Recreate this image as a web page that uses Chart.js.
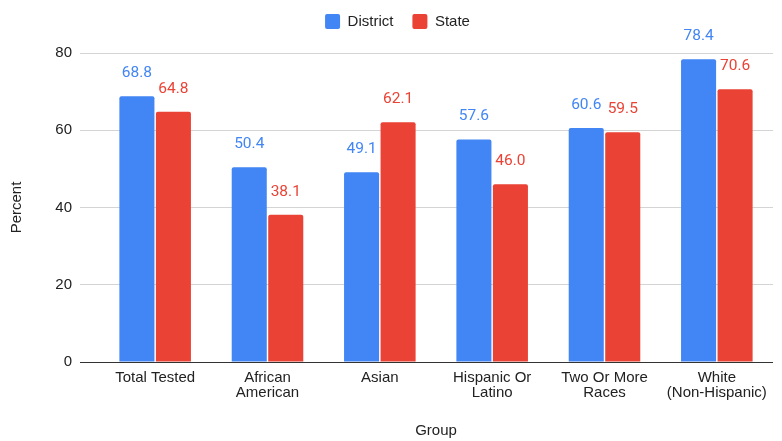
<!DOCTYPE html>
<html>
<head>
<meta charset="utf-8">
<title>Percent by Group</title>
<script src="https://cdn.jsdelivr.net/npm/chart.js@4/dist/chart.umd.min.js"></script>
<style>
	html, body { margin: 0; padding: 0; background: #fff; }
	#wrap { width: 782px; height: 441px; }
</style>
</head>
<body>
<div id="wrap"><canvas id="mycanvas"></canvas></div>
<script>
var groups = ['Total Tested', ['African', 'American'], 'Asian', ['Hispanic Or', 'Latino'], ['Two Or More', 'Races'], ['White', '(Non-Hispanic)']];
var district = [68.8, 50.4, 49.1, 57.6, 60.6, 78.4];
var state = [64.8, 38.1, 62.1, 46.0, 59.5, 70.6];
var yTicks = [0, 20, 40, 60, 80];

var FONT = "'Liberation Sans', Arial, sans-serif";
var BLUE = '#4285f4';
var RED = '#ea4335';

// value labels above each bar, in the bar's colour
var valueLabels = {
	id: 'valueLabels',
	afterDatasetsDraw: function(chart) {
		var ctx = chart.ctx;
		ctx.save();
		ctx.font = "15.5px Roboto, 'Liberation Sans', sans-serif";
		ctx.textAlign = 'center';
		ctx.textBaseline = 'middle';
		chart.data.datasets.forEach(function(ds, i) {
			var meta = chart.getDatasetMeta(i);
			ctx.fillStyle = ds.backgroundColor;
			meta.data.forEach(function(bar, j) {
				ctx.fillText(ds.data[j].toFixed(1), bar.x, bar.y - 23);
			});
		});
		ctx.restore();
	}
};

// give the legend a fixed height and nudge it right a little
var legendBox = {
	id: 'legendBox',
	beforeUpdate: function(chart) {
		var legend = chart.legend;
		if (!legend || legend._fixed) return;
		var fit = legend.fit;
		legend.fit = function() {
			fit.call(this);
			this.height = 58;
		};
		legend._fixed = true;
	},
	afterLayout: function(chart) {
		chart.legend.left += 11;
		chart.legend.right += 11;
	}
};

var chartdata = {
	labels: groups,
	datasets: [
		{
			label: 'District',
			backgroundColor: BLUE,
			data: district,
			borderRadius: {topLeft: 2, topRight: 2, bottomLeft: 0, bottomRight: 0},
			borderSkipped: false
		},
		{
			label: 'State',
			backgroundColor: RED,
			data: state,
			borderRadius: {topLeft: 2, topRight: 2, bottomLeft: 0, bottomRight: 0},
			borderSkipped: false
		}
	]
};

var ctx = document.getElementById('mycanvas');

var barGraph = new Chart(ctx, {
	type: 'bar',
	data: chartdata,
	plugins: [valueLabels, legendBox],
	options: {
		responsive: true,
		maintainAspectRatio: false,
		animation: false,
		categoryPercentage: 0.65,
		barPercentage: 0.96,
		layout: {
			padding: {top: -5, right: 9, bottom: 0, left: 0}
		},
		plugins: {
			tooltip: {enabled: false},
			legend: {
				position: 'top',
				labels: {
					boxWidth: 15,
					boxHeight: 15,
					useBorderRadius: true,
					borderRadius: 2,
					padding: 19,
					color: '#222',
					font: {family: FONT, size: 15}
				}
			}
		},
		scales: {
			x: {
				afterFit: function(scale) {
					scale.height = 79;
				},
				grid: {display: false},
				border: {display: false},
				ticks: {
					color: '#222',
					padding: 0,
					maxRotation: 0,
					autoSkip: false,
					font: {family: FONT, size: 15, lineHeight: 1}
				},
				title: {
					display: true,
					text: 'Group',
					color: '#222',
					padding: {top: 0, bottom: 1},
					font: {family: FONT, size: 15}
				}
			},
			y: {
				min: 0,
				max: 80,
				afterBuildTicks: function(scale) {
					scale.ticks = yTicks.map(function(v) { return {value: v}; });
				},
				afterFit: function(scale) {
					scale.width = 99;
				},
				border: {display: false},
				grid: {
					tickLength: 19,
					color: function(c) {
						return c.tick && c.tick.value === 0 ? '#333' : '#d4d4d4';
					},
					lineWidth: 1
				},
				ticks: {
					color: '#222',
					padding: 8,
					font: {family: FONT, size: 15}
				},
				title: {
					display: true,
					text: 'Percent',
					color: '#222',
					padding: {top: 8, bottom: 0},
					font: {family: FONT, size: 15}
				}
			}
		}
	}
});
</script>
</body>
</html>
